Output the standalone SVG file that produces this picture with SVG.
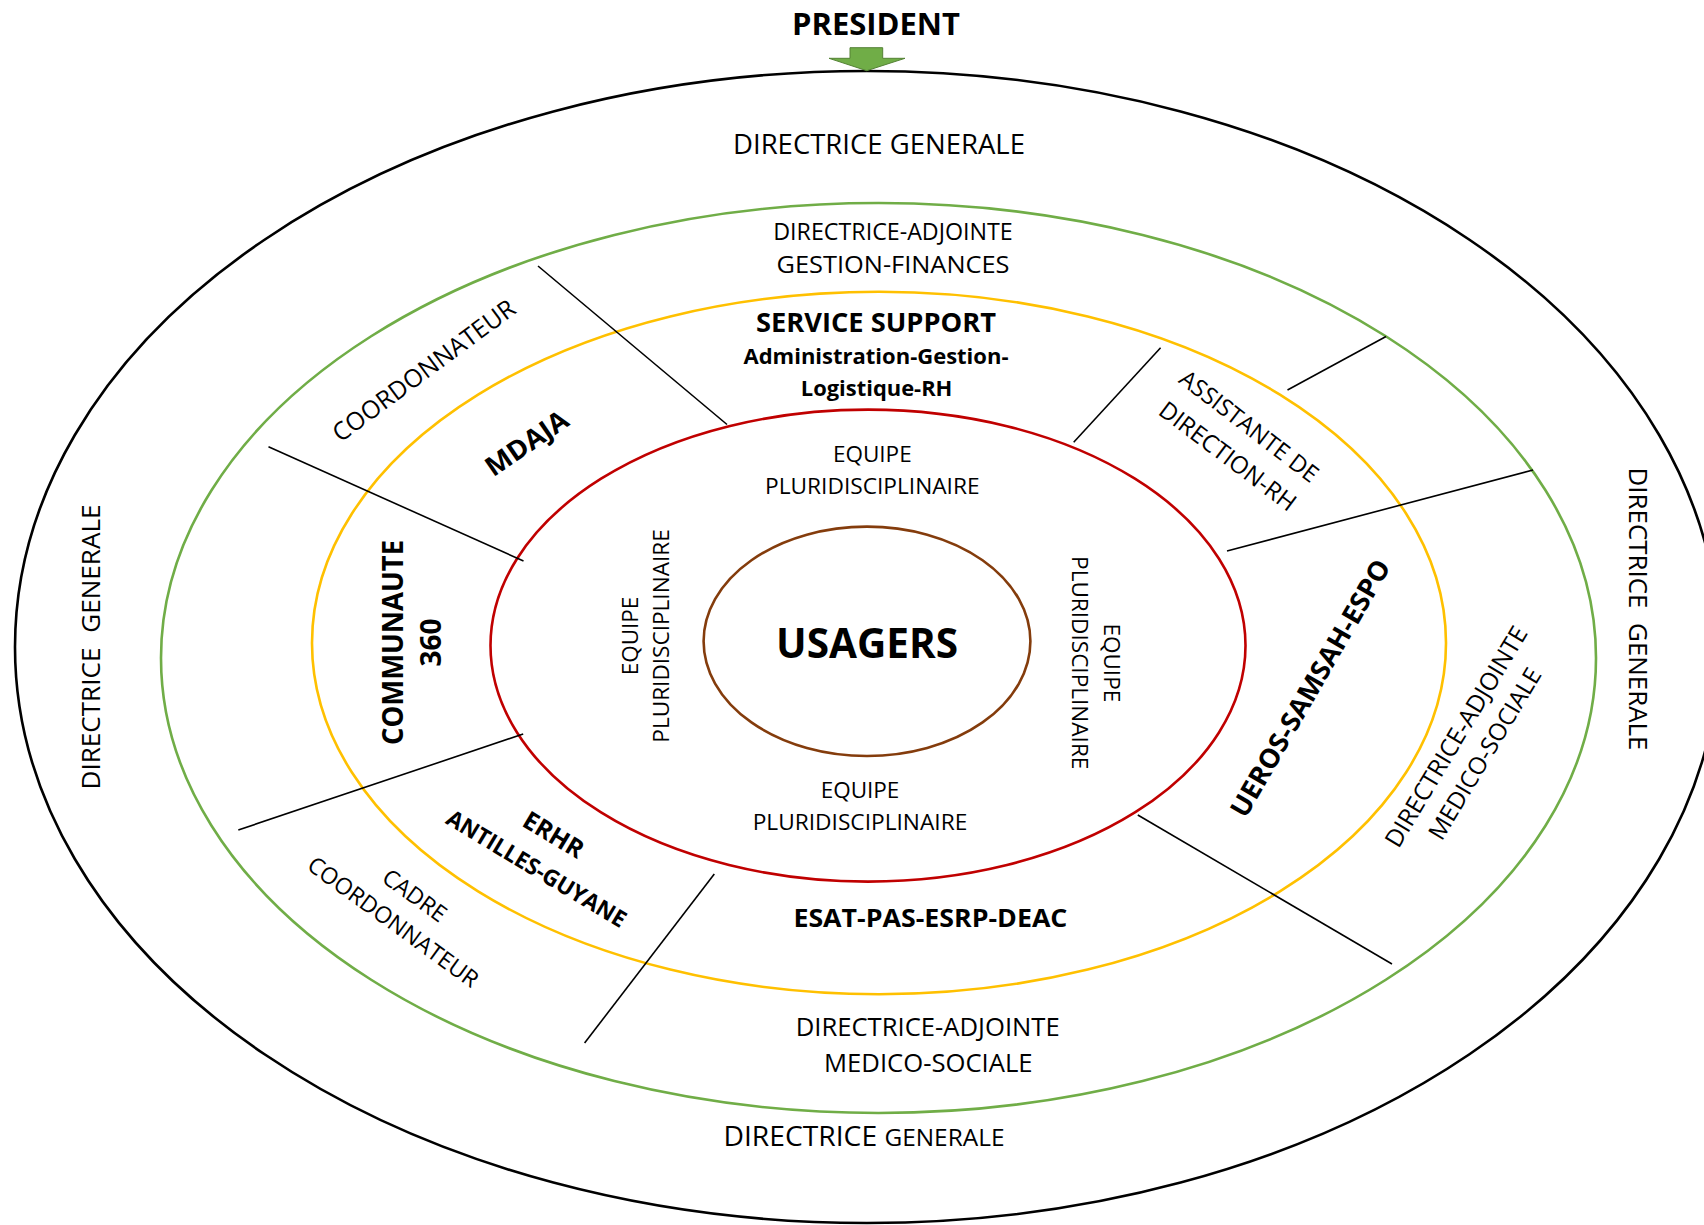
<svg xmlns="http://www.w3.org/2000/svg" width="1704" height="1225" viewBox="0 0 1704 1225">
<style>
text{font-family:"Open Sans","Liberation Sans",sans-serif;fill:#000;text-anchor:middle}
.b{font-weight:bold}
.ring{fill:none}
.sep{stroke:#000;stroke-width:1.6;fill:none}
</style>
<rect width="1704" height="1225" fill="#fff"/>
<g id="rings">
<ellipse id="ring-dg" class="ring" cx="867" cy="647" rx="852" ry="576" stroke="#000" stroke-width="2.6"/>
<ellipse id="ring-da" class="ring" cx="878.5" cy="658" rx="717.5" ry="455" stroke="#70AD47" stroke-width="2.6"/>
<ellipse id="ring-services" class="ring" cx="879" cy="643" rx="567" ry="351.2" stroke="#FFC000" stroke-width="2.6"/>
<ellipse id="ring-equipe" class="ring" cx="868" cy="645.6" rx="377.5" ry="236" stroke="#C00000" stroke-width="2.6"/>
<ellipse id="ring-usagers" class="ring" cx="867" cy="641.3" rx="163.4" ry="114.7" stroke="#843C0C" stroke-width="2.6"/>
</g>
<g id="connectors">
<line class="sep" x1="538" y1="266" x2="727" y2="424.5"/>
<line class="sep" x1="268.5" y1="446.7" x2="523.5" y2="561"/>
<line class="sep" x1="238.3" y1="830" x2="523.2" y2="734"/>
<line class="sep" x1="714.3" y1="874" x2="584.6" y2="1043"/>
<line class="sep" x1="1137.8" y1="815" x2="1392" y2="964"/>
<line class="sep" x1="1227" y1="551" x2="1533" y2="470"/>
<line class="sep" x1="1287.5" y1="390" x2="1386" y2="336.5"/>
<line class="sep" x1="1073.7" y1="442.3" x2="1160.6" y2="347.7"/>
<polygon id="arrow-president" points="850,47.7 882.7,47.7 882.7,58.3 905,58.3 866.7,70.7 829,58.3 850,58.3" fill="#70AD47" stroke="#548235" stroke-width="1"/>
</g>
<g id="president"><text class="b" x="876" y="35" font-size="30" textLength="168" lengthAdjust="spacingAndGlyphs">PRESIDENT</text></g>
<g id="directrice-generale">
<text x="879" y="154" font-size="27" textLength="292" lengthAdjust="spacingAndGlyphs">DIRECTRICE GENERALE</text>
<text transform="translate(100,647) rotate(-90)" font-size="26" textLength="285" lengthAdjust="spacingAndGlyphs">DIRECTRICE <tspan dx="8">GENERALE</tspan></text>
<text transform="translate(1629,609) rotate(90)" font-size="26" textLength="283" lengthAdjust="spacingAndGlyphs">DIRECTRICE <tspan dx="8">GENERALE</tspan></text>
<text x="864" y="1145.7" font-size="26.6" textLength="281" lengthAdjust="spacingAndGlyphs">DIRECTRICE <tspan font-size="23">GENERALE</tspan></text>
</g>
<g id="da-gestion-finances">
<text x="893" y="240" font-size="23" textLength="239.5" lengthAdjust="spacingAndGlyphs">DIRECTRICE-ADJOINTE</text>
<text x="893" y="273.3" font-size="23" textLength="233" lengthAdjust="spacingAndGlyphs">GESTION-FINANCES</text>
</g>
<g id="da-medico-sociale-bas">
<text x="927.7" y="1035.7" font-size="25.5" textLength="264" lengthAdjust="spacingAndGlyphs">DIRECTRICE-ADJOINTE</text>
<text x="928.3" y="1071.7" font-size="25.5" textLength="208.6" lengthAdjust="spacingAndGlyphs">MEDICO-SOCIALE</text>
</g>
<g id="da-medico-sociale-droite">
<text transform="translate(1463.5,741) rotate(-59)" font-size="24.5">DIRECTRICE-ADJOINTE</text>
<text transform="translate(1492,758) rotate(-59)" font-size="24">MEDICO-SOCIALE</text>
</g>
<g id="service-support">
<text class="b" x="876" y="331.7" font-size="27" textLength="240" lengthAdjust="spacingAndGlyphs">SERVICE SUPPORT</text>
<text class="b" x="876" y="364" font-size="22" textLength="265" lengthAdjust="spacingAndGlyphs">Administration-Gestion-</text>
<text class="b" x="876.6" y="396" font-size="22" textLength="151.6" lengthAdjust="spacingAndGlyphs">Logistique-RH</text>
</g>
<g id="mdaja">
<text class="b" transform="translate(532,451) rotate(-34.5)" font-size="27" textLength="94" lengthAdjust="spacingAndGlyphs">MDAJA</text>
</g>
<g id="coordonnateur">
<text transform="translate(429,377.5) rotate(-36.5)" font-size="25" textLength="220" lengthAdjust="spacingAndGlyphs">COORDONNATEUR</text>
</g>
<g id="assistante">
<text transform="translate(1244,432.7) rotate(37.5)" font-size="23.5">ASSISTANTE DE</text>
<text transform="translate(1222.7,463) rotate(37)" font-size="24">DIRECTION-RH</text>
</g>
<g id="communaute-360">
<text class="b" transform="translate(403,642.5) rotate(-90)" font-size="28" textLength="205" lengthAdjust="spacingAndGlyphs">COMMUNAUTE</text>
<text class="b" transform="translate(441,642.5) rotate(-90)" font-size="28">360</text>
</g>
<g id="ueros">
<text class="b" transform="translate(1318.5,692.8) rotate(-60)" font-size="27" textLength="292" lengthAdjust="spacingAndGlyphs">UEROS-SAMSAH-ESPO</text>
</g>
<g id="erhr">
<text class="b" transform="translate(549,842.3) rotate(31)" font-size="25">ERHR</text>
<text class="b" transform="translate(532.3,875.6) rotate(31)" font-size="23" textLength="205" lengthAdjust="spacingAndGlyphs">ANTILLES-GUYANE</text>
</g>
<g id="cadre-coordonnateur">
<text transform="translate(410,902) rotate(36)" font-size="23">CADRE</text>
<text transform="translate(388.4,928.5) rotate(36)" font-size="23">COORDONNATEUR</text>
</g>
<g id="esat">
<text class="b" x="930.4" y="926.7" font-size="25.7" textLength="274" lengthAdjust="spacingAndGlyphs">ESAT-PAS-ESRP-DEAC</text>
</g>
<g id="equipe-pluridisciplinaire">
<text x="872.3" y="461.7" font-size="22.5">EQUIPE</text>
<text x="872.3" y="494" font-size="22.5" textLength="214.6" lengthAdjust="spacingAndGlyphs">PLURIDISCIPLINAIRE</text>
<text x="860" y="798.3" font-size="22.5">EQUIPE</text>
<text x="860" y="830" font-size="22.5" textLength="214.6" lengthAdjust="spacingAndGlyphs">PLURIDISCIPLINAIRE</text>
<text transform="translate(637.5,636) rotate(-90)" font-size="22.5">EQUIPE</text>
<text transform="translate(669,636) rotate(-90)" font-size="22.5" textLength="213.4" lengthAdjust="spacingAndGlyphs">PLURIDISCIPLINAIRE</text>
<text transform="translate(1103.5,662.8) rotate(90)" font-size="22.5">EQUIPE</text>
<text transform="translate(1071.5,662.7) rotate(90)" font-size="22.5" textLength="213.3" lengthAdjust="spacingAndGlyphs">PLURIDISCIPLINAIRE</text>
</g>
<g id="usagers">
<text class="b" x="867" y="658.3" font-size="40.6" textLength="182" lengthAdjust="spacingAndGlyphs">USAGERS</text>
</g>
</svg>
